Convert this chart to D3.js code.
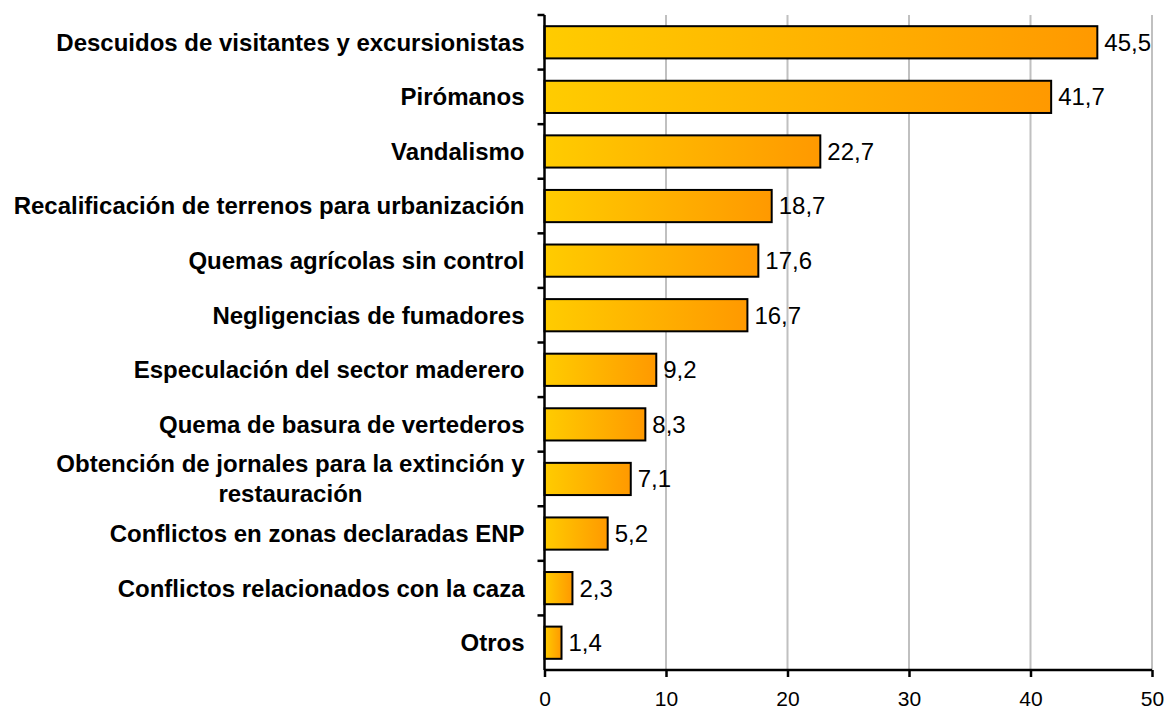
<!DOCTYPE html>
<html>
<head>
<meta charset="utf-8">
<script src="https://cdn.jsdelivr.net/npm/d3@7"></script>
<style>
  body { margin: 0; background: #fff; }
  svg { display: block; font-family: "Liberation Sans", Arial, sans-serif; }
</style>
</head>
<body>
<div id="main"></div>
<script>
const causes = [
  'Descuidos de visitantes y excursionistas',
  'Pirómanos',
  'Vandalismo',
  'Recalificación de terrenos para urbanización',
  'Quemas agrícolas sin control',
  'Negligencias de fumadores',
  'Especulación del sector maderero',
  'Quema de basura de vertederos',
  'Obtención de jornales para la extinción y\nrestauración',
  'Conflictos en zonas declaradas ENP',
  'Conflictos relacionados con la caza',
  'Otros'
];
const values = [45.5, 41.7, 22.7, 18.7, 17.6, 16.7, 9.2, 8.3, 7.1, 5.2, 2.3, 1.4];
const xTicks = [0, 10, 20, 30, 40, 50];

const width = 1166, height = 710;
const margin = { top: 15, right: 14, bottom: 40, left: 544.5 };

const data = causes.map((c, i) => ({ cause: c, value: values[i] }));

const sx = d3.scaleLinear()
  .domain([0, 50])
  .range([margin.left, width - margin.right]);
const sy = d3.scaleBand()
  .domain(causes)
  .range([margin.top, height - margin.bottom])
  .paddingInner(0.41)
  .paddingOuter(0.205);

const svg = d3.select('#main').append('svg')
  .attr('width', width).attr('height', height)
  .attr('viewBox', [0, 0, width, height]);

const grad = svg.append('defs').append('linearGradient')
  .attr('id', 'barfill')
  .attr('x1', 0).attr('x2', 1).attr('y1', 0).attr('y2', 0);
grad.append('stop').attr('offset', 0).attr('stop-color', '#ffcc00');
grad.append('stop').attr('offset', 1).attr('stop-color', '#ff9900');

// vertical grid
svg.append('g').selectAll('line')
  .data(xTicks.filter(d => d > 0))
  .join('line')
  .attr('x1', d => sx(d)).attr('x2', d => sx(d))
  .attr('y1', margin.top).attr('y2', height - margin.bottom)
  .attr('stroke', '#c0c0c0').attr('stroke-width', 2);

// bars
svg.append('g').selectAll('rect')
  .data(data)
  .join('rect')
  .attr('x', sx(0))
  .attr('y', d => sy(d.cause))
  .attr('width', d => sx(d.value) - sx(0))
  .attr('height', sy.bandwidth())
  .attr('fill', 'url(#barfill)')
  .attr('stroke', '#000').attr('stroke-width', 2);

// value labels
svg.append('g').selectAll('text')
  .data(data)
  .join('text')
  .attr('x', d => sx(d.value) + 7)
  .attr('y', d => sy(d.cause) + sy.bandwidth() / 2)
  .attr('dy', '0.35em')
  .attr('font-size', 24)
  .text(d => String(d.value).replace('.', ','));

// x axis
const ax = svg.append('g')
  .attr('transform', `translate(0,${height - margin.bottom})`)
  .call(d3.axisBottom(sx).tickValues(xTicks).tickSize(7).tickPadding(14).tickFormat(d3.format('d')));
ax.select('.domain').attr('stroke-width', 2.5).attr('d', `M${sx(0)},0H${sx(50)}`);
ax.selectAll('.tick line').attr('stroke-width', 2.5);
ax.selectAll('.tick text').attr('font-size', 21).attr('font-family', '"Liberation Sans", Arial, sans-serif').attr('fill', '#000');

// y axis with ticks between categories
const step = sy.step();
const yEdges = d3.range(causes.length + 1).map(i => margin.top + i * step);
svg.append('line')
  .attr('x1', sx(0)).attr('x2', sx(0))
  .attr('y1', margin.top).attr('y2', height - margin.bottom)
  .attr('stroke', '#000').attr('stroke-width', 2.5);
svg.append('g').selectAll('line')
  .data(yEdges.slice(0, -1))
  .join('line')
  .attr('x1', sx(0) - 7).attr('x2', sx(0))
  .attr('y1', d => d).attr('y2', d => d)
  .attr('stroke', '#000').attr('stroke-width', 2.5);

// category labels
const labelRight = sx(0) - 20;
const lg = svg.append('g')
  .attr('font-size', 24).attr('font-weight', 'bold');
data.forEach(d => {
  const lines = d.cause.split('\n');
  const cy = sy(d.cause) + sy.bandwidth() / 2;
  const lh = 30;
  const t = lg.append('text');
  lines.forEach((l, i) => {
    t.append('tspan')
      .attr('y', cy + (i - (lines.length - 1) / 2) * lh)
      .attr('dy', '0.35em')
      .text(l);
  });
  if (lines.length === 1) {
    t.attr('text-anchor', 'end').selectAll('tspan').attr('x', labelRight);
  } else {
    const w = d3.max(t.selectAll('tspan').nodes(), n => n.getComputedTextLength());
    t.attr('text-anchor', 'middle').selectAll('tspan').attr('x', labelRight - w / 2);
  }
});
</script>
</body>
</html>
